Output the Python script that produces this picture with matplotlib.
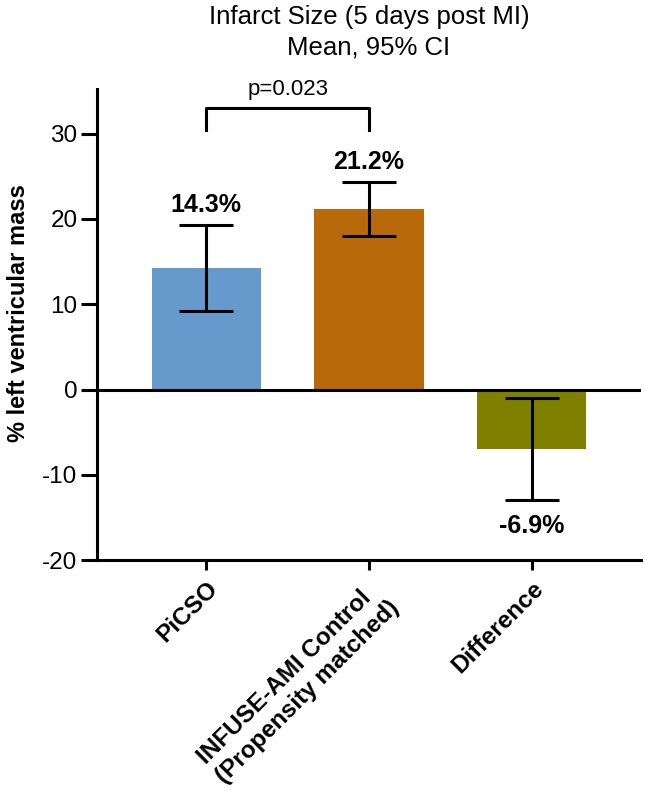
import matplotlib
matplotlib.use("Agg")
import matplotlib.pyplot as plt

plt.rcParams['font.family'] = ['Liberation Sans', 'DejaVu Sans']

categories = ["PiCSO", "INFUSE-AMI Control\n(Propensity matched)", "Difference"]
means = [14.3, 21.2, -6.9]
ci_low = [9.2, 18.0, -12.9]
ci_high = [19.3, 24.3, -1.0]
value_labels = ["14.3%", "21.2%", "-6.9%"]
colors = ["#6699CC", "#B8690A", "#808000"]
yticks = [-20, -10, 0, 10, 20, 30]
p_text = "p=0.023"

fig = plt.figure(figsize=(6.45, 7.97), dpi=100)
ax = fig.add_axes([97/645, 1-560.3/797, (641-97)/645, (560.3-89.3)/797])

x = list(range(len(categories)))
ax.bar(x, means, width=0.67, color=colors, zorder=1)
err_lo = [m - l for m, l in zip(means, ci_low)]
err_hi = [h - m for m, h in zip(means, ci_high)]
ax.errorbar(x, means, yerr=[err_lo, err_hi], fmt='none', ecolor='black',
            elinewidth=2.2, capsize=19.5, capthick=2.2, zorder=3)

ax.axhline(0, color='black', linewidth=2.2, zorder=2)

ax.set_xlim(-0.67, 2.67)
ax.set_ylim(-20, 35.2)
ax.set_yticks(yticks)
ax.set_yticklabels([str(t) for t in yticks], fontsize=17.5)
ax.set_xticks(x)
ax.set_xticklabels(categories, rotation=45, ha='right', rotation_mode='anchor',
                   fontsize=17.5, fontweight='bold', multialignment='left')

for s in ['top', 'right']:
    ax.spines[s].set_visible(False)
for s in ['left', 'bottom']:
    ax.spines[s].set_linewidth(2.2)
ax.tick_params(axis='y', width=2.2, length=11.5, pad=2.5)
ax.tick_params(axis='x', width=2.2, length=7, pad=5)

fig.text(19/645, 1-313/797, "% left ventricular mass", rotation=90,
         ha='center', va='center', fontsize=17, fontweight='bold')

# value labels
for i, (m, lo, hi, lab) in enumerate(zip(means, ci_low, ci_high, value_labels)):
    if m >= 0:
        ax.annotate(lab, (i, hi), xytext=(0, 6), textcoords='offset points',
                    ha='center', va='bottom', fontsize=18, fontweight='bold')
    else:
        ax.annotate(lab, (i, lo), xytext=(0, -10), textcoords='offset points',
                    ha='center', va='top', fontsize=18, fontweight='bold')

# significance bracket
ax.plot([0, 0, 1, 1], [30.4, 33.0, 33.0, 30.4], color='black', linewidth=2.2,
        clip_on=False)
ax.text(0.5, 34.0, p_text, ha='center', va='bottom', fontsize=16)

fig.text(369/645, 1-17/797, "Infarct Size (5 days post MI)", ha='center', va='center', fontsize=18.5)
fig.text(369/645, 1-47/797, "Mean, 95% CI", ha='center', va='center', fontsize=18.5)

fig.savefig("out.png", dpi=100)
